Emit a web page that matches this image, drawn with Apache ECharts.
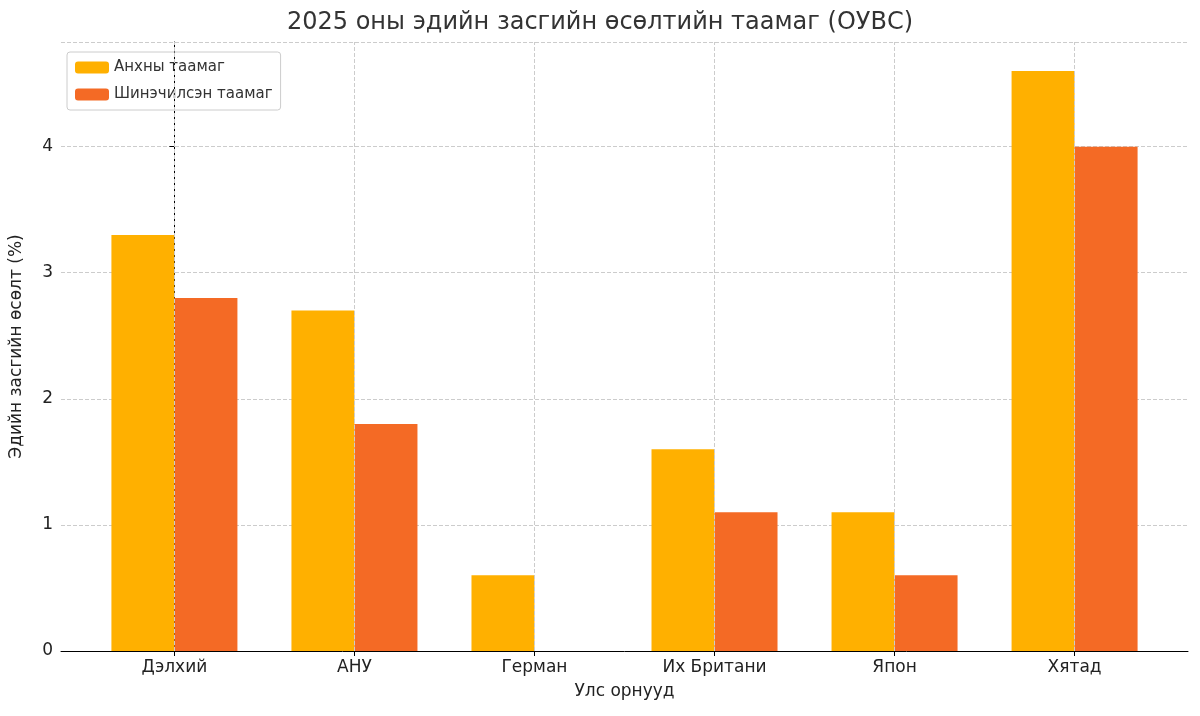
<!DOCTYPE html>
<html>
<head>
<meta charset="UTF-8">
<script src="https://cdn.jsdelivr.net/npm/echarts@6/dist/echarts.min.js"></script>
</head>
<body style="margin:0">
<div id="main" style="width:1200px;height:716px;"></div>
<script>
var countries = ['Дэлхий', 'АНУ', 'Герман', 'Их Британи', 'Япон', 'Хятад'];
var initialForecast = [3.3, 2.7, 0.6, 1.6, 1.1, 4.6];
var revisedForecast = [2.8, 1.8, 0.0, 1.1, 0.6, 4.0];

var positions = countries.map(function (c, i) { return i; });
function shift(arr, d) {
    return arr.map(function (v, i) { return [i + d, v]; });
}

var chart = echarts.init(document.getElementById('main'));
var font = 'DejaVu Sans';
chart.setOption({
    animation: false,
    textStyle: {fontFamily: font},
    title: {text: '2025 оны эдийн засгийн өсөлтийн таамаг (ОУВС)', left: 'center', top: 6,
        textStyle: {fontFamily: font, fontSize: 24, fontWeight: 'normal', color: '#333'}},
    legend: {orient: 'vertical', left: 67, top: 52, itemWidth: 34, itemHeight: 12, itemGap: 12,
        padding: [8, 8], borderColor: '#ccc', borderWidth: 1, borderRadius: 3,
        data: ['Анхны таамаг', 'Шинэчилсэн таамаг'],
        textStyle: {fontFamily: font, fontSize: 15, color: '#333'}},
    grid: {left: 58, right: 12, top: 42, bottom: 65},
    xAxis: {type: 'value', min: -0.63, max: 5.63,
        name: 'Улс орнууд', nameLocation: 'middle', nameGap: 32,
        nameTextStyle: {fontFamily: font, fontSize: 17, color: '#222'},
        axisLine: {lineStyle: {color: '#000'}},
        axisTick: {show: true, customValues: positions, lineStyle: {color: '#000'}},
        axisLabel: {fontFamily: font, fontSize: 17, color: '#222', customValues: positions,
            formatter: function (v) { return countries[Math.round(v)] || ''; }},
        splitLine: {show: false}},
    yAxis: {type: 'value', min: 0, max: 4.83, interval: 1,
        name: 'Эдийн засгийн өсөлт (%)', nameLocation: 'middle', nameGap: 36,
        nameTextStyle: {fontFamily: font, fontSize: 17, color: '#222'},
        axisLine: {show: true, lineStyle: {color: '#000'}}, axisTick: {show: true, lineStyle: {color: '#000'}},
        axisLabel: {fontFamily: font, fontSize: 17, color: '#222', showMaxLabel: false},
        splitLine: {lineStyle: {type: 'dashed', color: '#ccc'}}},
    series: [
        {name: 'grid', type: 'line', data: [], silent: true,
            markLine: {silent: true, symbol: 'none', label: {show: false},
                lineStyle: {type: 'dashed', color: '#ccc', width: 1},
                data: positions.map(function (p) { return {xAxis: p}; })}},
        {name: 'Анхны таамаг', type: 'bar', data: shift(initialForecast, -0.175), barWidth: 63, barGap: '-100%',
            itemStyle: {color: '#FFB000'}},
        {name: 'Шинэчилсэн таамаг', type: 'bar', data: shift(revisedForecast, 0.175), barWidth: 63, barGap: '-100%',
            itemStyle: {color: '#F46A25'}}
    ]
});
</script>
</body>
</html>
